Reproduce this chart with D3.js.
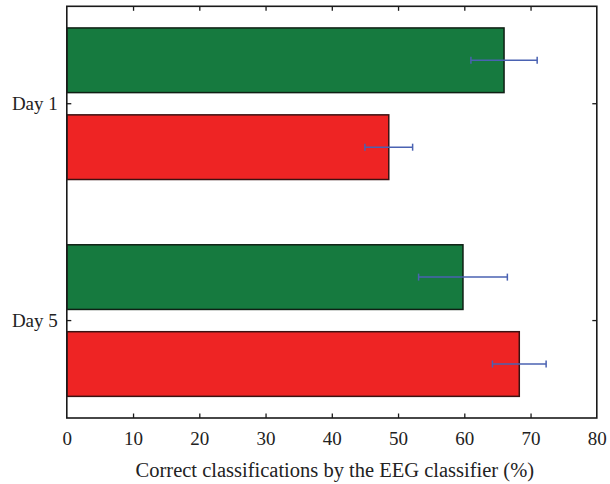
<!DOCTYPE html>
<html>
<head>
<meta charset="utf-8">
<script src="https://cdn.jsdelivr.net/npm/d3@7/dist/d3.min.js"></script>
<style>
  html, body { margin: 0; padding: 0; background: #fff; }
  svg { display: block; }
  text { font-family: "Liberation Serif", "DejaVu Serif", serif; fill: #222; }
</style>
</head>
<body>
<script>
// Days on the vertical axis
const days = ["Day 1", "Day 5"];
// Two conditions per day (upper bar, lower bar)
const conditions = ["upper", "lower"];
// Mean correct classifications (%) per day, per condition
const upperMeans = [66.0, 59.8];
const lowerMeans = [48.6, 68.3];
// Error bar half-widths (%)
const upperErrors = [5.0, 6.7];
const lowerErrors = [3.6, 4.05];
// Tick values on the horizontal axis
const xTicks = [0, 10, 20, 30, 40, 50, 60, 70, 80];
const xLabel = "Correct classifications by the EEG classifier (%)";

const rows = [];
days.forEach((d, i) => {
  rows.push({ day: d, cond: "upper", mean: upperMeans[i], err: upperErrors[i] });
  rows.push({ day: d, cond: "lower", mean: lowerMeans[i], err: lowerErrors[i] });
});

const W = 610, H = 484;
const plotL = 66.8, plotR = 596.8, plotT = 6.3, plotB = 418;

const svg = d3.select("body").append("svg").attr("width", W).attr("height", H);

const x = d3.scaleLinear().domain([0, 80]).range([plotL, plotR]);
const y = d3.scaleBand().domain(days).range([plotT, plotB])
  .paddingInner(0.301).paddingOuter(0.0998);
const ySub = d3.scaleBand().domain(conditions).range([0, y.bandwidth()])
  .paddingInner(0.256).paddingOuter(0);

const fill = { upper: "#167a3f", lower: "#ee2424" };
const edge = { upper: "#0f1f14", lower: "#3a1212" };

// Bars
svg.append("g").selectAll("rect").data(rows).join("rect")
  .attr("x", x(0))
  .attr("y", d => y(d.day) + ySub(d.cond))
  .attr("width", d => x(d.mean) - x(0))
  .attr("height", ySub.bandwidth())
  .attr("fill", d => fill[d.cond])
  .attr("stroke", d => edge[d.cond])
  .attr("stroke-width", 1.5);

// Error bars
const eb = svg.append("g").attr("stroke", "#4a62b2").attr("stroke-width", 1.5).attr("fill", "none");
const cap = 3.5;
rows.forEach(d => {
  const cy = y(d.day) + ySub(d.cond) + ySub.bandwidth() / 2;
  const x1 = x(d.mean - d.err), x2 = x(d.mean + d.err);
  eb.append("line").attr("x1", x1).attr("x2", x2).attr("y1", cy).attr("y2", cy);
  eb.append("line").attr("x1", x1).attr("x2", x1).attr("y1", cy - cap).attr("y2", cy + cap);
  eb.append("line").attr("x1", x2).attr("x2", x2).attr("y1", cy - cap).attr("y2", cy + cap);
});

// Frame
svg.append("rect")
  .attr("x", plotL).attr("y", plotT)
  .attr("width", plotR - plotL).attr("height", plotB - plotT)
  .attr("fill", "none").attr("stroke", "#1a1a1a").attr("stroke-width", 1.6);

const tickLen = 4.5;
const innerTicks = xTicks.slice(1, -1);
const serif = "Liberation Serif, DejaVu Serif, serif";

// Bottom axis: inward ticks, labels below
const xAxisBottom = d3.axisBottom(x).tickValues(xTicks).tickSizeInner(-tickLen).tickSizeOuter(0).tickPadding(14);
const gb = svg.append("g").attr("transform", `translate(0,${plotB})`).call(xAxisBottom);
gb.select(".domain").remove();
gb.selectAll(".tick line").attr("stroke", "#1a1a1a").attr("stroke-width", 1.3)
  .attr("display", d => (d === 0 || d === 80) ? "none" : null);
gb.selectAll(".tick text").attr("font-size", 19).attr("fill", "#2a2a2a")
  .attr("font-family", serif);

// Top axis: inward ticks only
const gt = svg.append("g").attr("transform", `translate(0,${plotT})`)
  .call(d3.axisTop(x).tickValues(innerTicks).tickSizeInner(-tickLen).tickSizeOuter(0).tickFormat(""));
gt.select(".domain").remove();
gt.selectAll(".tick line").attr("stroke", "#1a1a1a").attr("stroke-width", 1.3);

// Left axis: inward ticks at day centres, labels outside
const yAxisLeft = d3.axisLeft(y).tickSizeInner(-tickLen).tickSizeOuter(0).tickPadding(9);
const gl = svg.append("g").attr("transform", `translate(${plotL},0)`).call(yAxisLeft);
gl.select(".domain").remove();
gl.selectAll(".tick line").attr("stroke", "#1a1a1a").attr("stroke-width", 1.3);
gl.selectAll(".tick text").attr("font-size", 19).attr("fill", "#2a2a2a")
  .attr("font-family", serif);

// Right axis: inward ticks only
const gr = svg.append("g").attr("transform", `translate(${plotR},0)`)
  .call(d3.axisRight(y).tickSizeInner(-tickLen).tickSizeOuter(0).tickFormat(""));
gr.select(".domain").remove();
gr.selectAll(".tick line").attr("stroke", "#1a1a1a").attr("stroke-width", 1.3);

// Axis title
svg.append("text")
  .attr("x", (plotL + plotR) / 2 + 3)
  .attr("y", 477)
  .attr("text-anchor", "middle")
  .attr("font-size", 20.5)
  .attr("fill", "#2a2a2a")
  .text(xLabel);
</script>
</body>
</html>
